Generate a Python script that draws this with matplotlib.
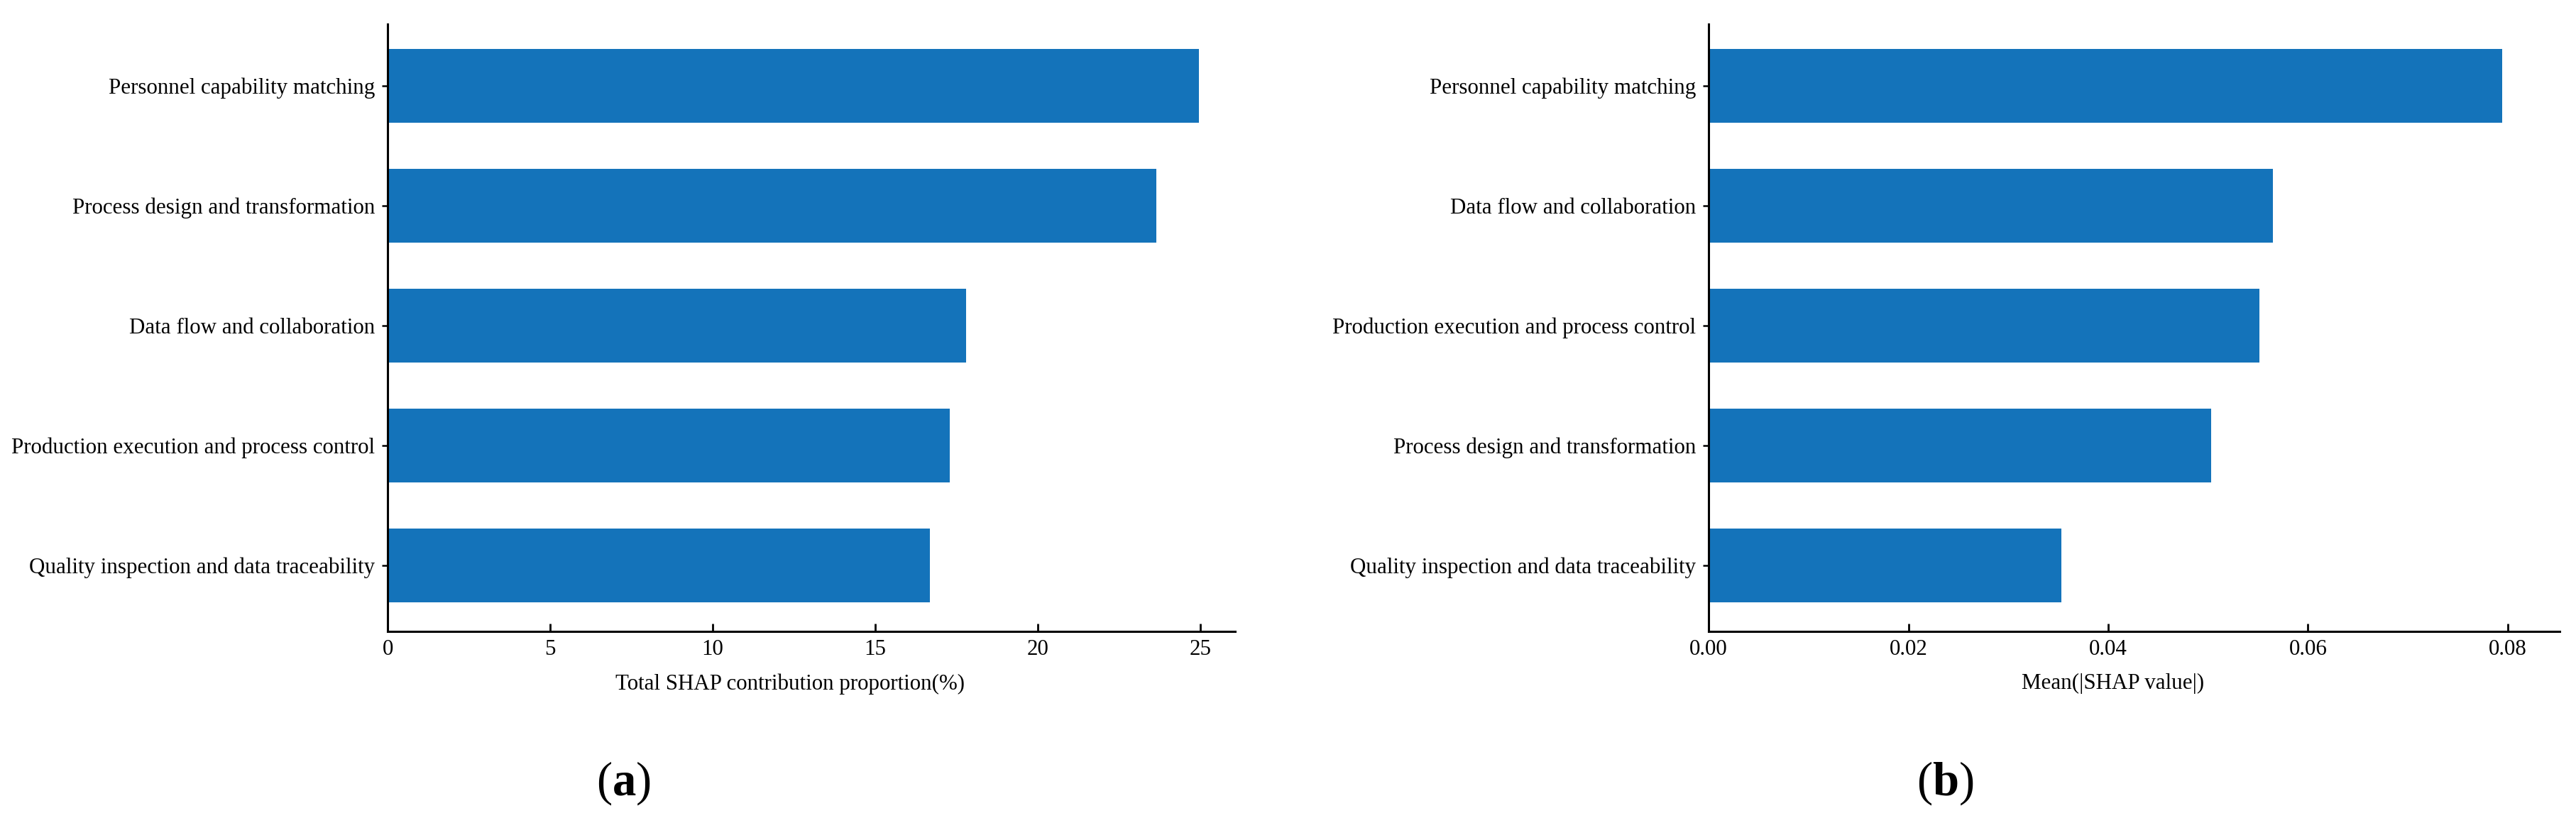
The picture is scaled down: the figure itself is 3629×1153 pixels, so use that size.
import matplotlib
matplotlib.use("Agg")
import matplotlib.pyplot as plt
from matplotlib.ticker import FormatStrFormatter

plt.rcParams['font.family'] = ['Liberation Serif', 'DejaVu Serif']
plt.rcParams['mathtext.fontset'] = 'custom'
plt.rcParams['mathtext.rm'] = 'Liberation Serif'
plt.rcParams['mathtext.bf'] = 'Liberation Serif:bold'

# panel (a): total SHAP contribution proportion, bottom to top
labels_a = ['Quality inspection and data traceability',
            'Production execution and process control',
            'Data flow and collaboration',
            'Process design and transformation',
            'Personnel capability matching']
values_a = [16.68, 17.29, 17.79, 23.65, 24.96]
ticks_a = [0, 5, 10, 15, 20, 25]

# panel (b): mean |SHAP value|, bottom to top
labels_b = ['Quality inspection and data traceability',
            'Process design and transformation',
            'Production execution and process control',
            'Data flow and collaboration',
            'Personnel capability matching']
values_b = [0.0353, 0.0503, 0.0551, 0.0565, 0.0794]
ticks_b = [0.00, 0.02, 0.04, 0.06, 0.08]

bar_color = '#1473ba'
fs = 22.3

fig = plt.figure(figsize=(36.29, 11.53), dpi=100)
ax1 = fig.add_axes([0.1505, 0.2281, 0.3290, 0.7424])
ax2 = fig.add_axes([0.6633, 0.2281, 0.3304, 0.7424])


def draw(ax, labels, values, ticks, xmax, xlabel, fmt):
    ax.barh(range(len(values)), values, height=0.615, color=bar_color)
    ax.set_yticks(range(len(labels)))
    ax.set_yticklabels(labels, fontsize=fs)
    ax.set_xticks(ticks)
    ax.xaxis.set_major_formatter(FormatStrFormatter(fmt))
    ax.set_xlim(0, xmax)
    ax.set_ylim(-0.55, 4.515)
    ax.set_xlabel(xlabel, fontsize=fs)
    ax.xaxis.set_label_coords(0.475, -0.069)
    for s in ['top', 'right']:
        ax.spines[s].set_visible(False)
    for s in ['left', 'bottom']:
        ax.spines[s].set_linewidth(2.2)
    ax.tick_params(axis='x', direction='in', length=8, width=2, labelsize=fs, pad=8)
    ax.tick_params(axis='y', direction='out', length=6, width=1.8, labelsize=fs, pad=7)


draw(ax1, labels_a, values_a, ticks_a, 26.07, 'Total SHAP contribution proportion(%)', '%d')
draw(ax2, labels_b, values_b, ticks_b, 0.0852, 'Mean(|SHAP value|)', '%.2f')

fig.text(0.242, 0.0425, r'($\mathbf{a}$)', fontsize=48, ha='center', va='center')
fig.text(0.755, 0.0425, r'($\mathbf{b}$)', fontsize=48, ha='center', va='center')

fig.savefig('out.png', dpi=100)
